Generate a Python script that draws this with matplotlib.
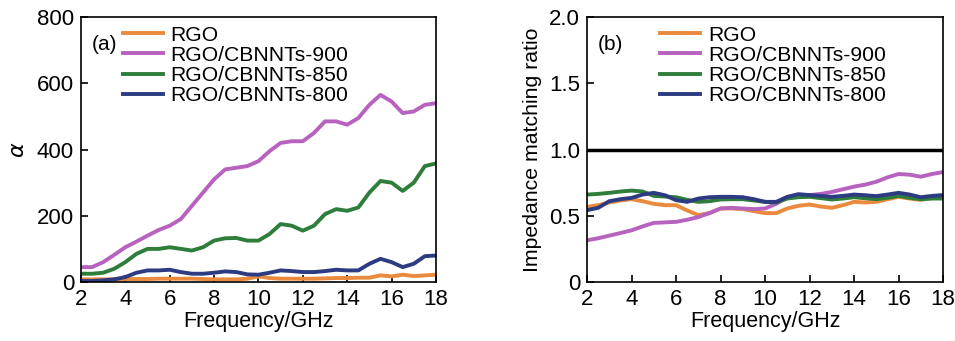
import numpy as np
import matplotlib.pyplot as plt

plt.rcParams['font.family'] = ['Liberation Sans', 'DejaVu Sans']

freq = np.arange(2, 18.01, 0.5)
labels = ['RGO', 'RGO/CBNNTs-900', 'RGO/CBNNTs-850', 'RGO/CBNNTs-800']
colors = ['#ea8a3e', '#b862c0', '#2f7d3b', '#2c3b82']

# attenuation constant alpha, sampled every 0.5 GHz from 2 to 18
alpha_rgo = [8, 8, 8, 8, 9, 9, 9, 10, 10, 10, 10, 9, 8, 8, 8, 10, 17,
             12, 10, 10, 10, 10, 11, 12, 12, 13, 13, 20, 17, 22, 18, 20, 22]
alpha_900 = [45, 45, 60, 82, 105, 122, 140, 157, 170, 190, 230, 270, 310, 340, 345, 350, 365,
             395, 420, 425, 425, 450, 485, 485, 475, 495, 535, 565, 545, 510, 515, 535, 540]
alpha_850 = [25, 25, 28, 40, 60, 85, 100, 100, 105, 100, 95, 105, 125, 132, 133, 125, 125,
             145, 175, 170, 155, 170, 205, 220, 215, 225, 270, 305, 300, 275, 300, 350, 358]
alpha_800 = [3, 3, 5, 8, 15, 28, 35, 35, 37, 30, 25, 25, 28, 32, 30, 23, 22,
             28, 35, 33, 30, 30, 33, 37, 35, 35, 55, 70, 60, 45, 55, 78, 80]

# impedance matching ratio
z_rgo = [0.567, 0.58, 0.60, 0.615, 0.625, 0.61, 0.59, 0.58, 0.58, 0.54, 0.505, 0.52, 0.555, 0.555, 0.55,
         0.535, 0.52, 0.52, 0.555, 0.575, 0.585, 0.57, 0.56, 0.58, 0.605, 0.60, 0.605, 0.625, 0.643, 0.63,
         0.62, 0.635, 0.643]
z_900 = [0.315, 0.33, 0.35, 0.37, 0.39, 0.42, 0.446, 0.45, 0.454, 0.47, 0.49, 0.52, 0.555, 0.56, 0.555,
         0.55, 0.555, 0.59, 0.64, 0.65, 0.656, 0.665, 0.68, 0.70, 0.72, 0.735, 0.757, 0.79, 0.815, 0.81,
         0.795, 0.815, 0.83]
z_850 = [0.66, 0.665, 0.673, 0.683, 0.69, 0.683, 0.65, 0.645, 0.64, 0.62, 0.605, 0.61, 0.623, 0.625, 0.625,
         0.615, 0.605, 0.60, 0.63, 0.64, 0.643, 0.633, 0.623, 0.63, 0.64, 0.632, 0.625, 0.635, 0.65, 0.635,
         0.625, 0.63, 0.63]
z_800 = [0.542, 0.56, 0.61, 0.625, 0.635, 0.66, 0.673, 0.655, 0.618, 0.605, 0.63, 0.64, 0.643, 0.643, 0.64,
         0.625, 0.605, 0.605, 0.643, 0.663, 0.656, 0.65, 0.643, 0.65, 0.66, 0.655, 0.648, 0.66, 0.673, 0.66,
         0.64, 0.65, 0.656]

fig = plt.figure(figsize=(9.55, 3.41), dpi=100)
ax1 = fig.add_axes([0.0848, 0.173, 0.3717, 0.777])
ax2 = fig.add_axes([0.6147, 0.173, 0.3728, 0.777])

for ys, lab, c in zip([alpha_rgo, alpha_900, alpha_850, alpha_800], labels, colors):
    ax1.plot(freq, ys, color=c, lw=2.8, label=lab, solid_joinstyle='round')
for ys, lab, c in zip([z_rgo, z_900, z_850, z_800], labels, colors):
    ax2.plot(freq, ys, color=c, lw=2.8, label=lab, solid_joinstyle='round')
ax2.axhline(1.0, color='black', lw=2.5)

ax1.set_ylim(0, 800)
ax1.set_yticks([0, 200, 400, 600, 800])
ax2.set_ylim(0, 2.0)
ax2.set_yticks([0, 0.5, 1.0, 1.5, 2.0])
ax2.set_yticklabels(['0', '0.5', '1.0', '1.5', '2.0'])

for ax in (ax1, ax2):
    ax.set_xlim(2, 18)
    ax.set_xticks(range(2, 19, 2))
    ax.tick_params(direction='in', length=5, width=1.2, labelsize=16, top=False, right=False, pad=5)
    for s in ax.spines.values():
        s.set_linewidth(1.2)
    ax.set_xlabel('Frequency/GHz', fontsize=15.5, labelpad=1)

ax1.set_ylabel(r'$\alpha$', fontsize=16, labelpad=6)
ax2.set_ylabel('Impedance matching ratio', fontsize=15.3, labelpad=5)

ax1.text(0.03, 0.875, '(a)', transform=ax1.transAxes, fontsize=15)
ax2.text(0.03, 0.875, '(b)', transform=ax2.transAxes, fontsize=15)

for ax, x0 in ((ax1, 0.112), (ax2, 0.2)):
    ax.legend(loc='upper left', bbox_to_anchor=(x0, 0.975), frameon=False, fontsize=15.2,
              handlelength=1.9, handletextpad=0.35, labelspacing=0.05, borderpad=0.1,
              borderaxespad=0)

fig.savefig('out.png', dpi=100)
